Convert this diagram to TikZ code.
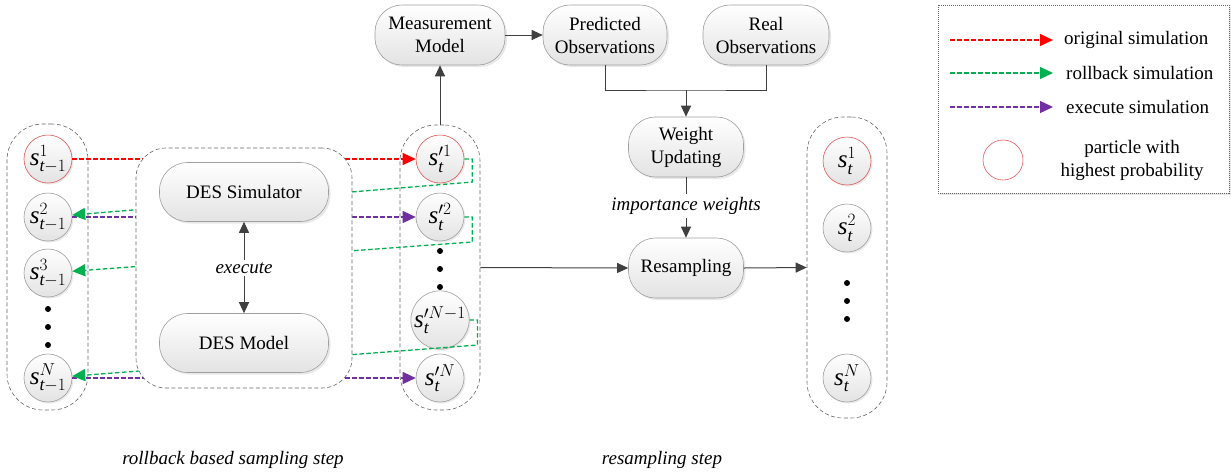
\documentclass[tikz,border=0pt]{standalone}
\usepackage{fontspec}
\setmainfont{Liberation Serif}
\usetikzlibrary{arrows.meta,shadows,calc}
\definecolor{cRed}{RGB}{255,0,0}
\definecolor{cGreen}{RGB}{0,176,80}
\definecolor{cPurple}{RGB}{112,48,160}
\definecolor{cDark}{RGB}{64,64,64}
\definecolor{cHi}{RGB}{225,90,90}
\newcommand\ps[2]{$\mathit{s}^{#1}_{\mathit{t}#2}$}
\newcommand\pp[1]{$\mathit{s}'^{#1}_{\mathit{t}}$}
\begin{document}
\begin{tikzpicture}[x=1pt,y=-1pt,
  font=\rmfamily\fontsize{19}{23}\selectfont,
  part/.style={circle, draw=gray!75, line width=0.6pt, minimum size=48pt, inner sep=0pt,
    font=\rmfamily\fontsize{25}{26}\selectfont,
    top color=white, bottom color=gray!22,
    drop shadow={shadow xshift=1.5pt, shadow yshift=-1.5pt, opacity=0.18, fill=gray}},
  hpart/.style={part, draw=cHi},
  rbox/.style={rectangle, rounded corners=27pt, draw=gray!75, line width=0.6pt,
    top color=white, bottom color=gray!22, minimum height=60pt, align=center, inner sep=2pt,
    drop shadow={shadow xshift=2pt, shadow yshift=-2pt, opacity=0.18, fill=gray}},
  group/.style={draw=gray!80!black, dash pattern=on 4pt off 2.5pt, line width=0.6pt, rounded corners=36pt},
  arr/.style={draw=cDark, line width=1pt, -{Triangle[length=11pt,width=10pt]}},
  ln/.style={draw=cDark, line width=1pt},
  carr/.style={dash pattern=on 4.5pt off 2.5pt, line width=1.3pt, -{Triangle[length=13pt,width=12pt]}},
  dot/.style={fill=black},
  lab/.style={font=\rmfamily\itshape\fontsize{19}{23}\selectfont}
]
\useasboundingbox (0,0) rectangle (1231,475);

% column groups
\node[group, minimum width=81pt, minimum height=286pt] (lc) at (47.5,267) {};
\node[group, minimum width=80pt, minimum height=285pt] (mc) at (440,267.5) {};
\node[group, minimum width=80pt, minimum height=301pt] (rc) at (847,267.5) {};

% left particles
\node[hpart] (l1) at (48,159) {\ps{1}{-1}};
\node[part] (l2) at (48,217) {\ps{2}{-1}};
\node[part] (l3) at (48,273) {\ps{3}{-1}};
\node[part] (lN) at (48,378) {\ps{N}{-1}};
\fill[dot] (48,309) circle (3);
\fill[dot] (48,327) circle (3);
\fill[dot] (48,345) circle (3);

% middle particles
\node[hpart] (r1) at (440,159) {\pp{1}};
\node[part] (r2) at (440,217) {\pp{2}};
\node[part] (rN1) at (440,320) {\pp{N-1}};
\node[part] (rN) at (440,378) {\pp{N}};
\fill[dot] (440,251) circle (3);
\fill[dot] (440,269) circle (3);
\fill[dot] (440,287) circle (3);

% right particles
\node[hpart] (q1) at (847,161) {\ps{1}{}};
\node[part] (q2) at (847,228) {\ps{2}{}};
\node[part] (qN) at (847,378) {\ps{N}{}};
\fill[dot] (847,283) circle (3);
\fill[dot] (847,301) circle (3);
\fill[dot] (847,319) circle (3);

% coloured simulation arrows
\draw[carr, cRed] (l1) -- (r1);
\draw[carr, cPurple] (l2) -- (r2);
\draw[carr, cPurple] (lN) -- (rN);
\draw[carr, cGreen] (r1.east) -| ($(r1.east)+(8,23)$) -- (l2);
\draw[carr, cGreen] (r2.east) -| ($(r2.east)+(8,25)$) -- (l3);
\draw[carr, cGreen] (rN1.east) -| ($(rN1.east)+(8,25)$) -- (lN);

% DES container
\node[group, fill=white, rounded corners=30pt, minimum width=216pt, minimum height=240pt] (dc) at (244,268) {};
\node[rbox, minimum width=169pt, minimum height=59pt, rounded corners=28pt] (dsim) at (244,192) {DES Simulator};
\node[rbox, minimum width=169pt, minimum height=59pt, rounded corners=28pt] (dmod) at (244,343) {DES Model};
\node[lab, inner sep=2pt] (ex) at (244,268) {execute};
\draw[arr] (ex.north) -- (dsim.south);
\draw[arr] (ex.south) -- (dmod.north);

% top flow
\node[rbox, minimum width=130pt] (mm) at (440,35) {Measurement\\Model};
\node[rbox, minimum width=124pt] (po) at (605,35) {Predicted\\Observations};
\node[rbox, minimum width=126pt] (ro) at (766,35) {Real\\Observations};
\node[rbox, minimum width=115pt] (wu) at (686,147) {Weight\\Updating};
\node[rbox, minimum width=115pt] (rs) at (686,268) {Resampling};
\node[lab, inner sep=3pt] (iw) at (686,206) {importance weights};
\coordinate (join) at (686,90);

\draw[arr] (mc.north) -- (mm.south);
\draw[arr] (mm.east) -- (po.west);
\draw[ln] (po.south) |- (join) -| (ro.south);
\draw[arr] (join) -- (wu.north);
\draw[ln] (wu.south) -- (iw.north);
\draw[arr] (iw.south) -- (rs.north);
\draw[arr] (mc.east) -- (rs.west);
\draw[arr] (rs.east) -- (rc.west);

% legend
\node[draw=gray!80!black, dash pattern=on 1pt off 1pt, line width=0.6pt, fill=white,
  minimum width=291pt, minimum height=188pt,
  drop shadow={shadow xshift=2pt, shadow yshift=-2pt, opacity=0.2, fill=gray}] (leg) at (1083.5,99) {};
\coordinate (la1) at (950,40); \coordinate (la2) at (1053,40);
\coordinate (lb1) at (950,73); \coordinate (lb2) at (1053,73);
\coordinate (lp1) at (950,107); \coordinate (lp2) at (1053,107);
\draw[carr, cRed] (la1) -- (la2);
\draw[carr, cGreen] (lb1) -- (lb2);
\draw[carr, cPurple] (lp1) -- (lp2);
\node[anchor=west, inner sep=0pt] (t1) at (1064,40) {original simulation};
\node[anchor=west, inner sep=0pt] (t2) at (1066,73) {rollback simulation};
\node[anchor=west, inner sep=0pt] (t3) at (1066,107) {execute simulation};
\node[circle, draw=cHi, line width=0.6pt, minimum size=40pt, inner sep=0pt] (lcirc) at (1003,160) {};
\node[align=center, inner sep=0pt] (t4) at (1132,160) {particle with\\highest probability};

% bottom labels
\node[lab] (lab1) at (233,460) {rollback based sampling step};
\node[lab] (lab2) at (662,460) {resampling step};
\end{tikzpicture}
\end{document}
